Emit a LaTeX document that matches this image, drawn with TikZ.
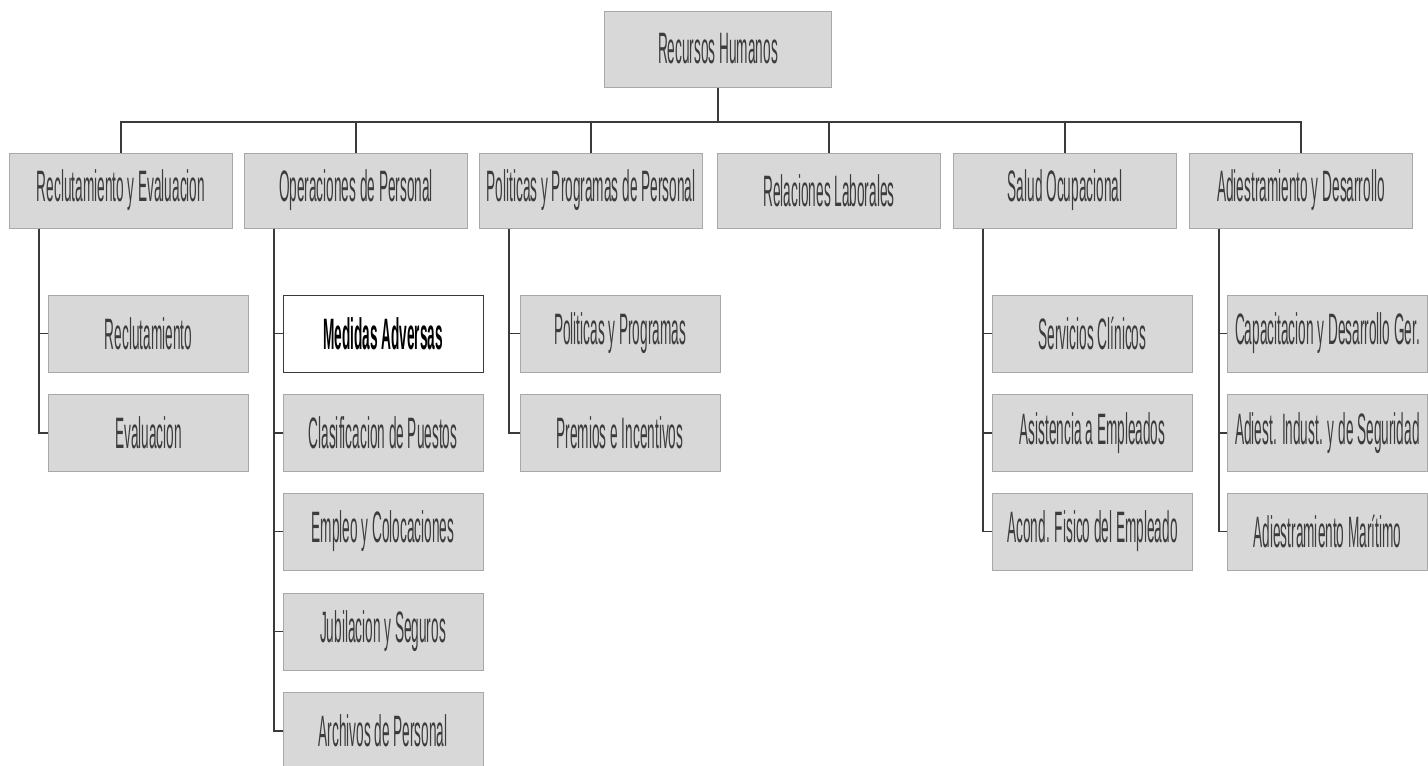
\documentclass[tikz,border=0pt]{standalone}
\usepackage{fontspec}
\setmainfont{Liberation Sans}[FakeStretch=0.31]
\definecolor{boxfill}{HTML}{D8D8D8}
\definecolor{boxline}{HTML}{A8A8A8}
\definecolor{txt}{HTML}{3C3C3C}
\definecolor{conn}{HTML}{3A3A3A}
\begin{document}
\begin{tikzpicture}[x=1pt,y=-1pt,
  orgbox/.style={draw=boxline, line width=1pt, fill=boxfill, text=txt,
    minimum height=76pt, inner sep=0pt, font=\fontsize{44}{48}\selectfont},
  topbox/.style={orgbox, minimum width=227pt},
  lvlone/.style={orgbox, minimum width=223pt, minimum height=75pt},
  lvltwo/.style={orgbox, minimum width=200pt, minimum height=77pt},
  hilite/.style={lvltwo, fill=white, draw=conn, text=black, font=\fontsize{44}{48}\selectfont\bfseries},
  link/.style={draw=conn, line width=1.1pt}]
\useasboundingbox (0,0) rectangle (1428,766);
\fill[white] (0,0) rectangle (1428,766);
\coordinate (busy) at (0,122);
% top
\node[topbox] (rh) at (718,49) {Recursos Humanos};
% level one
\node[lvlone] (re) at (121,190.5) {Reclutamiento y Evaluacion};
\node[lvlone] (op) at (356,190.5) {Operaciones de Personal};
\node[lvlone] (pp) at (591,190.5) {Politicas y Programas de Personal};
\node[lvlone] (rl) at (829,190.5) {Relaciones Laborales};
\node[lvlone] (so) at (1065,190.5) {Salud Ocupacional};
\node[lvlone] (ad) at (1301,190.5) {Adiestramiento y Desarrollo};
% level two
\node[lvltwo] (re1) at (148.5,333.5) {Reclutamiento};
\node[lvltwo] (re2) at (148.5,433) {Evaluacion};
\node[hilite] (op1) at (383,333.5) {Medidas Adversas};
\node[lvltwo] (op2) at (383,433) {Clasificacion de Puestos};
\node[lvltwo] (op3) at (383,531.5) {Empleo y Colocaciones};
\node[lvltwo] (op4) at (383,631.5) {Jubilacion y Seguros};
\node[lvltwo] (op5) at (383,731) {Archivos de Personal};
\node[lvltwo] (pp1) at (620,333.5) {Politicas y Programas};
\node[lvltwo] (pp2) at (620,433) {Premios e Incentivos};
\node[lvltwo] (so1) at (1092.5,333.5) {Servicios Clínicos};
\node[lvltwo] (so2) at (1092.5,433) {Asistencia a Empleados};
\node[lvltwo] (so3) at (1092.5,531.5) {Acond. Fisico del Empleado};
\node[lvltwo] (ad1) at (1327.5,333.5) {Capacitacion y Desarrollo Ger.};
\node[lvltwo] (ad2) at (1327.5,433) {Adiest. Indust. y de Seguridad};
\node[lvltwo] (ad3) at (1327.5,531.5) {Adiestramiento Marítimo};
% connectors top -> level one
\draw[link] (rh.south) -- (rh.south |- busy);
\foreach \n in {re,op,pp,rl,so,ad}{
  \draw[link] (rh.south |- busy) -| (\n.north);
}
% level one -> level two
\foreach \p/\c in {re/re1,re/re2,op/op1,op/op2,op/op3,op/op4,op/op5,pp/pp1,pp/pp2,so/so1,so/so2,so/so3,ad/ad1,ad/ad2,ad/ad3}{
  \draw[link] ([xshift=-82pt]\p.south) |- (\c.west);
}
\end{tikzpicture}
\end{document}
